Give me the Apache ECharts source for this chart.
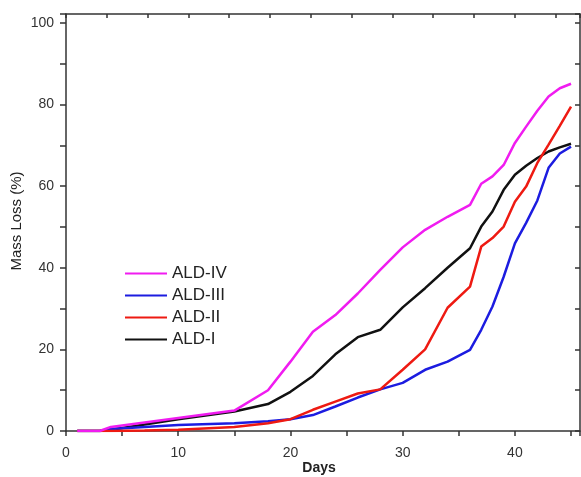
<!DOCTYPE html>
<html><head><meta charset="utf-8">
<script src="https://cdn.jsdelivr.net/npm/echarts@6/dist/echarts.min.js"></script>
<style>html,body{margin:0;padding:0;background:#fff}#c{width:581px;height:477px}</style>
</head><body><div id="c"></div>
<script>
const days   = [1,3,4,7,10,15,18,20,22,24,26,28,30,32,34,36,37,38,39,40,41,42,43,44,45];
const aldI   = [0,0,0.3,1.6,2.9,4.8,6.6,9.6,13.5,18.8,23,24.8,30.3,35,40,44.8,50.1,53.8,59.1,62.8,65,66.9,68.5,69.5,70.4];
const aldII  = [0,0,0,0.1,0.3,1,1.9,2.9,5.2,7.2,9.2,10.2,15,20,30.2,35.4,45.2,47.3,50.1,56.2,59.9,65.7,70.2,74.8,79.5];
const aldIII = [0,0,0.5,1,1.5,1.9,2.4,2.9,3.9,6,8.2,10.2,11.8,15,17,19.9,24.8,30.5,37.8,46,51,56.5,64.5,68,69.7];
const aldIV  = [0,0,1,2.1,3.2,5,10,17,24.3,28.4,33.7,39.5,45,49.3,52.5,55.4,60.6,62.4,65.2,70.6,74.6,78.5,82,84,85.1];
const seriesNames = ['ALD-IV','ALD-III','ALD-II','ALD-I'];
const xTitle = 'Days';
const yTitle = 'Mass Loss (%)';

const pair = arr => days.map((d,i)=>[d,arr[i]]);
const font = 'Liberation Sans, Arial, sans-serif';
const axisCol = '#333';

const chart = echarts.init(document.getElementById('c'));
chart.setOption({
  animation:false,
  grid:{left:66,right:1,top:14,bottom:46,containLabel:false,outerBoundsMode:'none'},
  graphic:[
    {type:'text', x:319, y:468, style:{text:xTitle, x:0, y:0, align:'center', verticalAlign:'middle',
      font:'bold 14px Liberation Sans, Arial, sans-serif', fill:'#222'}},
    {type:'text', x:17, y:221, rotation:Math.PI/2, style:{text:yTitle, x:0, y:0, align:'center', verticalAlign:'middle',
      font:'15px Liberation Sans, Arial, sans-serif', fill:'#222'}}
  ],
  legend:{
    orient:'vertical', left:125, top:265, padding:0,
    data:seriesNames, itemWidth:42, itemHeight:14, itemGap:5,
    textStyle:{fontFamily:font,fontSize:17,color:'#222'},
    icon:'path://M0,6 L43,6 L43,8 L0,8 Z'
  },
  xAxis:[{
    type:'value', min:0, max:45.8, interval:5, position:'bottom',
    axisLine:{onZero:false,lineStyle:{color:axisCol,width:1.5}},
    axisTick:{show:true,inside:false,length:5,lineStyle:{color:axisCol,width:1.5}},
    axisLabel:{fontFamily:font,fontSize:14,color:'#333',margin:15,
      formatter:v=> (Math.abs(v%10)<1e-9 ? String(v) : '')},
    splitLine:{show:false}
  },{
    type:'value', min:0, max:12.6, interval:1, position:'top',
    axisLine:{show:true,onZero:false,lineStyle:{color:axisCol,width:1.5}},
    axisTick:{show:true,inside:true,length:4,lineStyle:{color:axisCol,width:1.5}},
    axisLabel:{show:false}, splitLine:{show:false}
  }],
  yAxis:[{
    type:'value', min:0, max:102.2, interval:10, position:'left',
    axisLine:{show:true,onZero:false,lineStyle:{color:axisCol,width:1.5}},
    axisTick:{show:true,inside:false,length:6,lineStyle:{color:axisCol,width:1.5}},
    axisLabel:{fontFamily:font,fontSize:14,color:'#333',margin:12,
      formatter:v=> (Math.abs(v%20)<1e-9 ? String(v) : '')},
    splitLine:{show:false}
  },{
    type:'value', min:0, max:102.2, interval:10, position:'right',
    axisLine:{show:true,onZero:false,lineStyle:{color:axisCol,width:1.5}},
    axisTick:{show:true,inside:true,length:5,lineStyle:{color:axisCol,width:1.5}},
    axisLabel:{show:false}, splitLine:{show:false}
  }],
  series:[
    {name:'ALD-I',type:'line',data:pair(aldI),symbol:'none',z:2,
     lineStyle:{color:'#111',width:2.5},itemStyle:{color:'#111'}},
    {name:'ALD-III',type:'line',data:pair(aldIII),symbol:'none',z:3,
     lineStyle:{color:'#1c1ce0',width:2.5},itemStyle:{color:'#1c1ce0'}},
    {name:'ALD-II',type:'line',data:pair(aldII),symbol:'none',z:4,
     lineStyle:{color:'#ee1a12',width:2.5},itemStyle:{color:'#ee1a12'}},
    {name:'ALD-IV',type:'line',data:pair(aldIV),symbol:'none',z:5,
     lineStyle:{color:'#f01cf0',width:2.5},itemStyle:{color:'#f01cf0'}}
  ]
});
</script></body></html>
